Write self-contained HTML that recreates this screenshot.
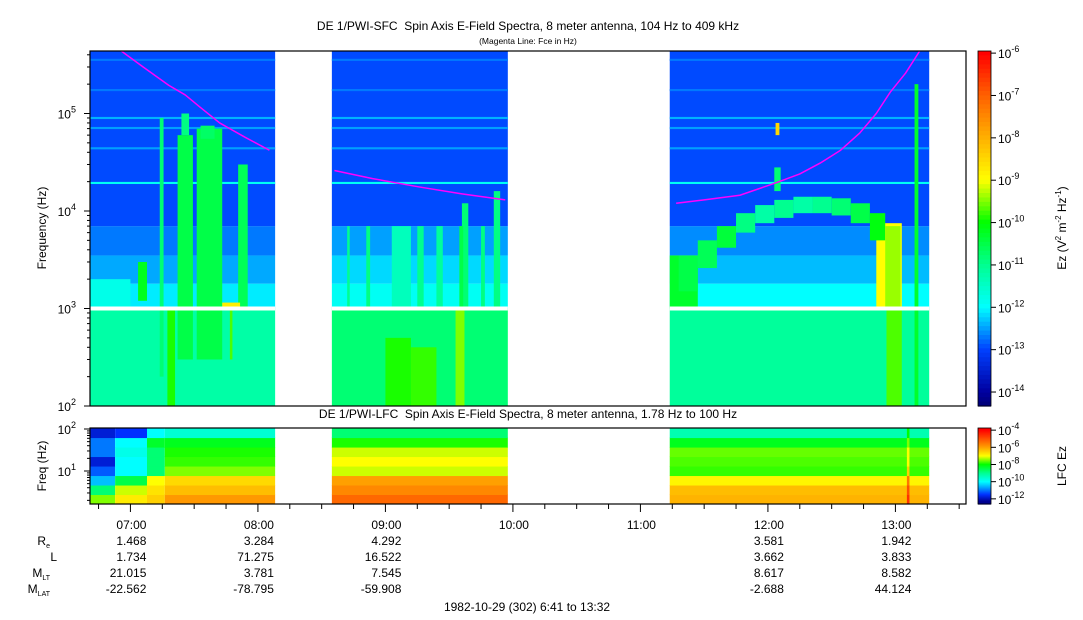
<!DOCTYPE html>
<html><head><meta charset="utf-8">
<style>
body{margin:0;background:#fff;}
svg{display:block;font-family:"Liberation Sans",Arial,sans-serif;}
</style></head>
<body>
<svg id="chart" width="1083" height="620" viewBox="0 0 1083 620" xmlns="http://www.w3.org/2000/svg">
<text x="528" y="30" font-size="12" text-anchor="middle" xml:space="preserve">DE 1/PWI-SFC  Spin Axis E-Field Spectra, 8 meter antenna, 104 Hz to 409 kHz</text>
<text x="528" y="44" font-size="8.5" text-anchor="middle">(Magenta Line: Fce in Hz)</text>
<text x="528" y="418" font-size="12" text-anchor="middle" xml:space="preserve">DE 1/PWI-LFC  Spin Axis E-Field Spectra, 8 meter antenna, 1.78 Hz to 100 Hz</text>
<text transform="translate(46,228) rotate(-90)" font-size="12" text-anchor="middle">Frequency (Hz)</text>
<text transform="translate(46,466) rotate(-90)" font-size="12" text-anchor="middle">Freq (Hz)</text>
<text transform="translate(1066,228) rotate(-90)" font-size="12" text-anchor="middle">Ez (V<tspan font-size="8" dy="-5">2</tspan><tspan dy="5"> m</tspan><tspan font-size="8" dy="-5">-2</tspan><tspan dy="5"> Hz</tspan><tspan font-size="8" dy="-5">-1</tspan><tspan dy="5">)</tspan></text>
<text transform="translate(1066,466) rotate(-90)" font-size="12" text-anchor="middle">LFC Ez</text>
<g id="sfc"></g>
<g id="lfc"></g>
<g id="axes"></g>
<g id="cbars"></g>
<g id="ephem"></g>
<text x="527" y="611" font-size="12" text-anchor="middle">1982-10-29 (302) 6:41 to 13:32</text>
</svg>
<script>
// ---- data ----
const segments = [[6.683,8.135],[8.58,9.96],[11.23,13.265]];
const bandLo = [100, 1000, 1800, 3500, 7000];
const bandHi = [1000, 1800, 3500, 7000, 436000];
const bandVal1 = [-11.2, -12.1, -12.45, -12.7, -12.95];
const bandVal2 = [-10.8, -11.9, -12.2, -12.5, -12.95];
const bandVal3 = [-11.1, -12.0, -12.35, -12.6, -12.95];
const stripeFreqs = [355000, 174000, 90000, 71000, 44000, 19400];
const stripeVals = [-12.7, -12.7, -12.4, -12.5, -12.5, -11.9];
const featT0 = [7.23,7.37,7.40,7.52,7.55,7.845,7.06,7.29,7.72,7.78,6.68,8.70,8.85,9.05,9.25,9.4,9.6,9.75,9.85,9.0,9.2,9.55,9.58,11.23,12.85,13.15,12.06,12.05,12.93];
const featT1 = [7.26,7.49,7.46,7.72,7.66,7.92,7.13,7.35,7.86,7.80,7.0,8.72,8.88,9.2,9.3,9.45,9.65,9.78,9.9,9.2,9.4,9.62,9.61,11.45,13.05,13.18,12.09,12.10,13.05];
const featLo = [200,300,60000,300,55000,1000,1200,100,1000,300,1000,1000,1000,1000,1000,1000,1000,1000,1000,100,100,100,1000,1000,1000,100,60000,16000,100];
const featHi = [90000,60000,100000,70000,75000,30000,3000,1000,1150,1000,2000,7000,7000,7000,7000,7000,12000,7000,16000,500,400,1000,7000,3500,7500,200000,80000,28000,1000];
const featVal = [-10.8,-10.5,-10.9,-10.5,-10.7,-10.6,-10.2,-9.9,-8.8,-9.7,-11.8,-11.0,-10.9,-11.4,-11.0,-11.1,-10.8,-10.9,-10.9,-9.9,-9.8,-9.5,-10.5,-10.3,-9.0,-10.3,-8.5,-10.8,-9.7];
const arcT = [11.30,11.45,11.60,11.75,11.90,12.05,12.20,12.35,12.50,12.65,12.80,12.92];
const arcTop = [3500,5000,7000,9500,11500,13000,14000,14000,13500,12000,9500,7000];
const arcBot = [1500,2600,4200,6000,7500,8500,9500,9500,9000,7500,5000,1000];
const arcVal = [-10.5,-10.6,-10.4,-10.9,-11.2,-11.0,-11.2,-11.0,-10.8,-10.5,-10.1,-9.4];
const fceT = [6.93,7.1,7.3,7.43,7.55,7.7,7.9,8.09, 8.60,8.9,9.27,9.6,9.94, 11.28,11.5,11.78,12.06,12.25,12.41,12.57,12.72,12.85,12.96,13.08,13.19];
const fceF = [436000,300000,195000,155000,115000,80000,57000,42000, 26000,21500,17600,15000,13000, 12000,13000,14500,19400,24000,31000,42000,63000,100000,166000,260000,436000];
const fceSeg = [0,0,0,0,0,0,0,0, 1,1,1,1,1, 2,2,2,2,2,2,2,2,2,2,2,2];
const lfcRowEdges = [0.214,0.44,0.666,0.892,1.118,1.344,1.57,1.796,2.022];
const lfcT0 = [6.683,6.88,7.13,7.27,8.58,11.23,13.09];
const lfcT1 = [6.88,7.13,7.27,8.18,9.97,13.27,13.11];
const lfcVals = [
 [-7.5,-8.8,-10.5,-11.2,-11.8,-11,-11,-11.8],
 [-6.8,-7.2,-8.5,-10,-10,-9.8,-10,-11.5],
 [-6.5,-6.7,-7,-8.8,-8.8,-8.8,-8.3,-10],
 [-5.9,-6.3,-6.6,-7.5,-7.8,-7.9,-8.2,-9.6],
 [-5.3,-5.7,-6,-7.2,-7.0,-7.2,-7.9,-8.8],
 [-6.2,-6.3,-6.9,-7.8,-7.7,-7.6,-8.2,-9.3],
 [-4.6,-5,-5.5,-6.5,-7,-7,-7.5,-8]];
const timeTicks = ["07:00","08:00","09:00","10:00","11:00","12:00","13:00"];
const ephemRows = ["R","L","M","M"];
const ephemSub = ["e","","LT","LAT"];
const ephemCols = [0,1,2,5,6];
const ephemVals = [
 ["1.468","1.734","21.015","-22.562"],
 ["3.284","71.275","3.781","-78.795"],
 ["4.292","16.522","7.545","-59.908"],
 ["3.581","3.662","8.617","-2.688"],
 ["1.942","3.833","8.582","44.124"]];

// ---- scales ----
const NS="http://www.w3.org/2000/svg";
const X0=90, X1=966, T0=6.683, PXH=127.5;
const xs = t => X0 + (t - T0) * PXH;
const ys = f => 406 - (Math.log10(f) - 2) * 97.5;
const yl = lg => 429 + (2 - lg) * 42;
const stopsS = [[-14.5,[0,0,96]],[-14,[0,0,160]],[-13,[0,64,255]],[-12,[0,255,255]],[-11,[0,255,144]],[-10,[0,255,0]],[-9,[255,255,0]],[-8,[255,176,0]],[-7,[255,96,0]],[-6,[255,0,0]]];
const stopsL = [[-12.3,[0,0,144]],[-11.5,[0,48,255]],[-10.5,[0,192,255]],[-10,[0,255,255]],[-9,[0,255,144]],[-8,[0,255,0]],[-7,[255,255,0]],[-6,[255,160,0]],[-4,[255,0,0]]];
function cmap(v, st){
  if(v<=st[0][0]) return 'rgb('+st[0][1]+')';
  for(let i=1;i<st.length;i++){ if(v<=st[i][0]){ const a=st[i-1],b=st[i],k=(v-a[0])/(b[0]-a[0]); return 'rgb('+a[1].map((c,j)=>Math.round(c+(b[1][j]-c)*k)).join(',')+')'; } }
  return 'rgb('+st[st.length-1][1]+')';
}
function el(tag, attrs, parent){ const e=document.createElementNS(NS,tag); for(const k in attrs) e.setAttribute(k,attrs[k]); parent.appendChild(e); return e; }
const sfc=document.getElementById('sfc'), lfc=document.getElementById('lfc'), axes=document.getElementById('axes'), cb=document.getElementById('cbars'), eph=document.getElementById('ephem');
function clampSeg(t0,t1){ for(const s of segments){ if(t0<s[1]&&t1>s[0]) return [Math.max(t0,s[0]),Math.min(t1,s[1])]; } return null; }
function cell(t0,t1,fLo,fHi,v,name){
  const c=clampSeg(t0,t1); if(!c) return;
  const r=el('rect',{x:xs(c[0]),y:ys(fHi),width:xs(c[1])-xs(c[0]),height:ys(fLo)-ys(fHi),fill:cmap(v,stopsS)},sfc);
  
  
}
const bandSets=[bandVal1,bandVal2,bandVal3];
segments.forEach((s,si)=>{
  bandLo.forEach((lo,i)=>cell(s[0],s[1],lo,bandHi[i],bandSets[si][i],'spectrum-band'));
  stripeFreqs.forEach((f,i)=>cell(s[0],s[1],f*0.975,f*1.025,stripeVals[i],'interference-stripe'));
});
featT0.forEach((t,i)=>cell(t,featT1[i],featLo[i],featHi[i],featVal[i],'emission-feature'));
arcT.forEach((t,i)=>{ const t1 = i<arcT.length-1 ? arcT[i+1] : t+0.12; cell(t,t1,arcBot[i],arcTop[i],arcVal[i],'emission-arc-cell'); });
segments.forEach(s=>{ const r=el('rect',{x:xs(s[0]),y:ys(1000)-2,width:xs(s[1])-xs(s[0]),height:4,fill:'#fff'},sfc);
    });
[0,1,2].forEach(si=>{
  const pts=fceT.map((t,i)=>fceSeg[i]===si?xs(t)+','+ys(fceF[i]):null).filter(p=>p).join(' ');
  const p=el('polyline',{points:pts,fill:'none',stroke:'#ff00ff','stroke-width':1.5,'stroke-linejoin':'round'},sfc);
  
  
});
lfcT0.forEach((t,bi)=>{
  lfcVals[bi].forEach((v,ri)=>{
    const c=clampSeg(t,lfcT1[bi]); if(!c) return;
    const r=el('rect',{x:xs(c[0]),y:yl(lfcRowEdges[ri+1]),width:xs(c[1])-xs(c[0]),height:yl(lfcRowEdges[ri])-yl(lfcRowEdges[ri+1])+0.5,fill:cmap(v,stopsL)},lfc);
    
    
  });
});
const f1=el('rect',{x:X0,y:51,width:X1-X0,height:355,fill:'none',stroke:'#000','stroke-width':1.2},axes);
 
const f2=el('rect',{x:X0,y:428,width:X1-X0,height:76,fill:'none',stroke:'#000','stroke-width':1.2},axes);
 
for(let d=2;d<=5;d++){ for(let m=1;m<10;m++){ const f=m*Math.pow(10,d); if(f>436000) break; const y=ys(f);
  el('line',{x1:X0-(m===1?6:3),x2:X0,y1:y,y2:y,stroke:'#000'},axes);
  if(m===1){ const t=el('text',{x:X0-14,y:y+5,'font-size':12,'text-anchor':'end'},axes); t.innerHTML='10<tspan font-size="9" dy="-6">'+d+'</tspan>';
      } } }
for(let d=0;d<=2;d++){ for(let m=1;m<10;m++){ const lg=d+Math.log10(m); if(lg>2.02||lg<0.214) continue; const y=yl(lg);
  el('line',{x1:X0-(m===1?6:3),x2:X0,y1:y,y2:y,stroke:'#000'},axes);
  if(m===1){ const t=el('text',{x:X0-14,y:y+5,'font-size':12,'text-anchor':'end'},axes); t.innerHTML='10<tspan font-size="9" dy="-6">'+d+'</tspan>';
      } } }
for(let q=0;q<=27;q++){ const t=6.75+q*0.25; const x=xs(t); if(x>X1) break; const major=q%4===1;
  el('line',{x1:x,x2:x,y1:504,y2:504+(major?8:5),stroke:'#000'},axes); }
timeTicks.forEach((lab,i)=>{ const t=el('text',{x:xs(7+i)+1,y:529,'font-size':12,'text-anchor':'middle'},axes); t.textContent=lab;
    });
ephemRows.forEach((r,i)=>{ const t=el('text',{x:ephemSub[i]?50:57,y:545+i*16,'font-size':12,'text-anchor':'end'},eph);
  t.innerHTML=r+(ephemSub[i]?'<tspan font-size="7" dy="3">'+ephemSub[i]+'</tspan>':'');
    });
ephemCols.forEach((c,ci)=>{ ephemVals[ci].forEach((v,ri)=>{ const t=el('text',{x:xs(7+c)+16,y:545+ri*16,'font-size':12,'text-anchor':'end'},eph); t.textContent=v;
    }); });
function colorbar(y0,y1,vTop,vBot,st,ticks,name){
  const n=80;
  for(let i=0;i<n;i++){ const v=vTop+(vBot-vTop)*(i+0.5)/n; el('rect',{x:978,y:y0+(y1-y0)*i/n,width:13,height:(y1-y0)/n+0.6,fill:cmap(v,st)},cb); }
  const fr=el('rect',{x:978,y:y0,width:13,height:y1-y0,fill:'none',stroke:'#000','stroke-width':0.8},cb);
   
  ticks.forEach(e=>{ const y=y0+(y1-y0)*(vTop-e)/(vTop-vBot);
    el('line',{x1:991,x2:996,y1:y,y2:y,stroke:'#000'},cb);
    const t=el('text',{x:998,y:y+5,'font-size':12},cb); t.innerHTML='10<tspan font-size="9" dy="-6">'+e+'</tspan>';
      });
}
colorbar(51,406,-5.95,-14.33,stopsS,[-6,-7,-8,-9,-10,-11,-12,-13,-14],'ez-colorbar');
colorbar(428,504,-3.75,-12.6,stopsL,[-4,-6,-8,-10,-12],'lfc-colorbar');
</script>
</body></html>
